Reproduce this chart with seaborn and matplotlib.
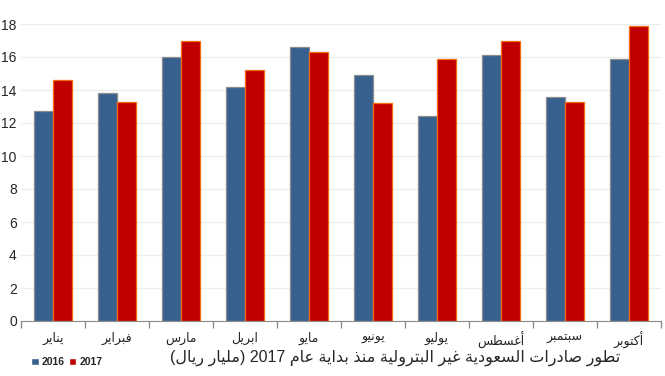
import seaborn as sns
import numpy as np
import pandas as pd
import matplotlib
matplotlib.use("Agg")
import matplotlib.pyplot as plt

# months (logical Arabic text)
months = ["يناير", "فبراير", "مارس", "ابريل", "مايو",
          "يونيو", "يوليو", "أغسطس", "سبتمبر", "أكتوبر"]
v2016 = [12.7, 13.8, 16.0, 14.2, 16.6, 14.9, 12.4, 16.1, 13.6, 15.9]
v2017 = [14.6, 13.3, 17.0, 15.2, 16.3, 13.2, 15.9, 17.0, 13.3, 17.9]
years = ["2016", "2017"]
title = "تطور صادرات السعودية غير البترولية منذ بداية عام 2017 (مليار ريال)"

# simple arabic shaping: isolated, final, initial, medial
FORMS = {
    "ا": (0xFE8D, 0xFE8E), "أ": (0xFE83, 0xFE84), "د": (0xFEA9, 0xFEAA),
    "ذ": (0xFEAB, 0xFEAC), "ر": (0xFEAD, 0xFEAE), "و": (0xFEED, 0xFEEE),
    "ة": (0xFE93, 0xFE94),
    "ب": (0xFE8F, 0xFE90, 0xFE91, 0xFE92), "ت": (0xFE95, 0xFE96, 0xFE97, 0xFE98),
    "س": (0xFEB1, 0xFEB2, 0xFEB3, 0xFEB4), "ص": (0xFEB9, 0xFEBA, 0xFEBB, 0xFEBC),
    "ط": (0xFEC1, 0xFEC2, 0xFEC3, 0xFEC4), "ع": (0xFEC9, 0xFECA, 0xFECB, 0xFECC),
    "غ": (0xFECD, 0xFECE, 0xFECF, 0xFED0), "ف": (0xFED1, 0xFED2, 0xFED3, 0xFED4),
    "ك": (0xFED9, 0xFEDA, 0xFEDB, 0xFEDC), "ل": (0xFEDD, 0xFEDE, 0xFEDF, 0xFEE0),
    "م": (0xFEE1, 0xFEE2, 0xFEE3, 0xFEE4), "ن": (0xFEE5, 0xFEE6, 0xFEE7, 0xFEE8),
    "ي": (0xFEF1, 0xFEF2, 0xFEF3, 0xFEF4),
}


def shape(s):
    out = []
    for i, c in enumerate(s):
        if c not in FORMS:
            out.append(c)
            continue
        f = FORMS[c]
        prev = s[i - 1] if i > 0 else ""
        nxt = s[i + 1] if i + 1 < len(s) else ""
        pj = prev in FORMS and len(FORMS[prev]) == 4
        nj = len(f) == 4 and nxt in FORMS
        if pj and nj:
            out.append(chr(f[3]))
        elif pj:
            out.append(chr(f[1]))
        elif nj:
            out.append(chr(f[2]))
        else:
            out.append(chr(f[0]))
    # visual order: reverse, keep digit runs, mirror parens
    rev = "".join(out)[::-1]
    res, run = "", ""
    for c in rev:
        if c.isdigit():
            run += c
        else:
            res += run[::-1]
            run = ""
            res += {"(": ")", ")": "("}.get(c, c)
    return res + run[::-1]


df = pd.DataFrame({
    "month": months * 2,
    "value": v2016 + v2017,
    "year": [years[0]] * len(months) + [years[1]] * len(months),
})

sns.set_style("white")
plt.rcParams["font.family"] = ["Liberation Sans", "DejaVu Sans"]

fig = plt.figure(figsize=(6.65, 3.76), dpi=100)
ax = fig.add_axes([21 / 665, 1 - 321 / 376, 640 / 665, 297 / 376])

sns.barplot(data=df, x="month", y="value", hue="year",
            palette=["#37608F", "#C00000"], width=0.6, gap=0,
            saturation=1, ax=ax)

edges = ["#8C8C8C", "#F26B10"]
for cont, ec in zip(ax.containers, edges):
    for p in cont:
        p.set_edgecolor(ec)
        p.set_linewidth(0.9)

handles, labels = ax.get_legend_handles_labels()
ax.get_legend().remove()

ax.set_xlim(-0.5, len(months) - 0.5)
ax.set_ylim(0, 18)
ax.set_yticks(np.arange(0, 19, 2))
ax.yaxis.grid(True, color="#EDEDED", linewidth=1)
ax.set_axisbelow(True)
ax.set_xlabel("")
ax.set_ylabel("")

ax.set_xticks(range(len(months)))
ax.set_xticklabels([shape(m) for m in months], fontsize=9)
ax.set_xticks(np.arange(-0.5, len(months)), minor=True)
ax.tick_params(axis="x", which="major", length=0, pad=8)
ax.tick_params(axis="x", which="minor", length=5, color="#8C8C8C", width=1, bottom=True)
ax.tick_params(axis="y", length=0, pad=3, labelsize=10)

for s in ["top", "right", "left"]:
    ax.spines[s].set_visible(False)
ax.spines["bottom"].set_color("#8C8C8C")

fig.text(395 / 665, 1 - 358 / 376, shape(title), fontsize=11.5,
         ha="center", va="center")

fig.legend(handles, labels, loc="center left", bbox_to_anchor=(22 / 665, 1 - 362 / 376),
           ncol=2, frameon=False, handlelength=0.7, handleheight=0.7,
           handletextpad=0.3, columnspacing=0.4,
           prop={"size": 7.5, "weight": "bold"})

fig.savefig("out.png", dpi=100)
